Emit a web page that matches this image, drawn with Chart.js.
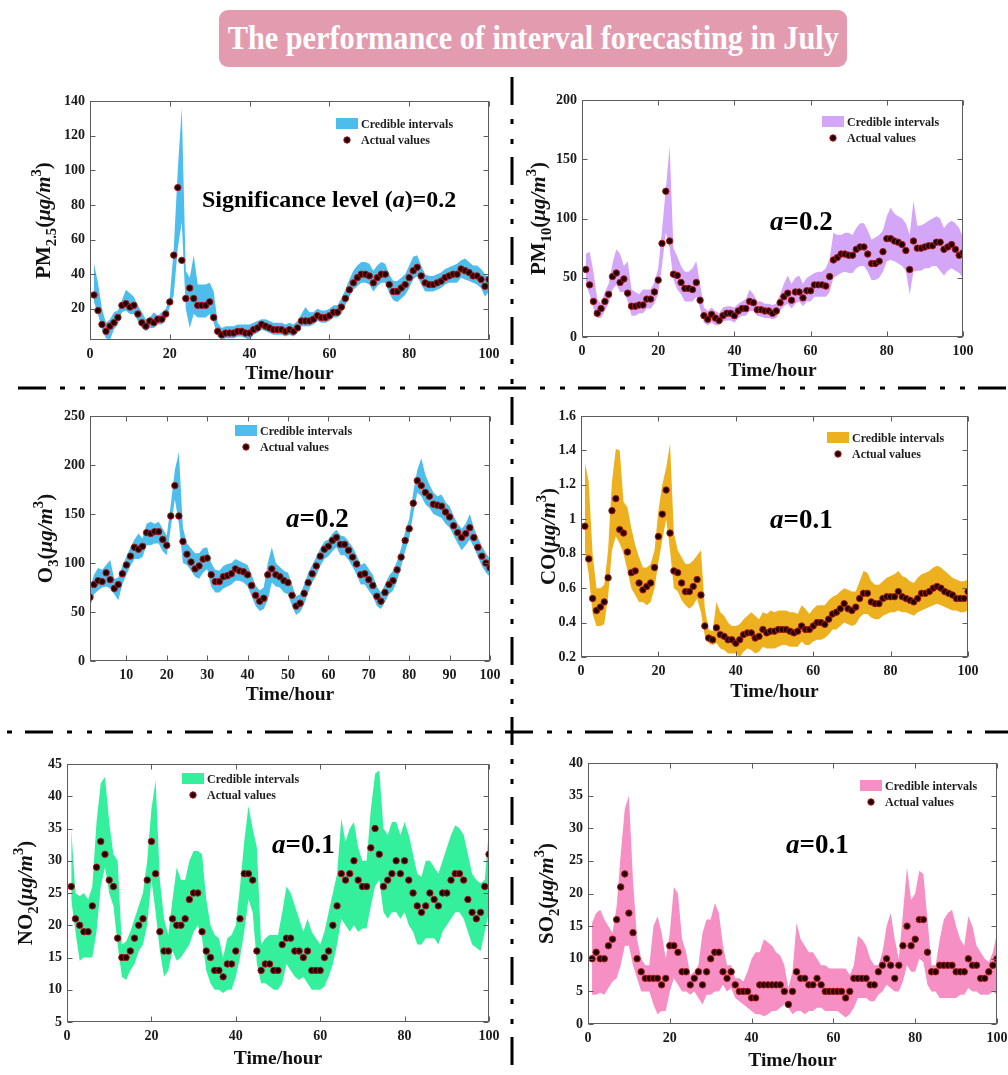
<!DOCTYPE html>
<html><head><meta charset="utf-8">
<script src="https://cdn.jsdelivr.net/npm/chart.js@4.4.1/dist/chart.umd.min.js"></script>
<style>
html,body{margin:0;padding:0;background:#fff;}
body{width:1008px;height:1075px;position:relative;overflow:hidden;}
#title{position:absolute;left:219px;top:10px;width:628px;height:57px;background:#e39caf;border-radius:9px;display:flex;align-items:center;justify-content:center;overflow:hidden;}
#ttext{font-family:'Liberation Serif','Times New Roman',serif;font-weight:bold;font-size:33px;color:#fff;white-space:nowrap;display:inline-block;transform-origin:center;}
canvas{position:absolute;}
svg{position:absolute;left:0;top:0;}
</style></head><body>
<div id="title"><span id="ttext">The performance of interval forecasting in July</span></div>
<svg width="1008" height="1075">
<line x1="18" y1="388" x2="1008" y2="388" stroke="#000" stroke-width="3" stroke-dasharray="28 14 5 15 5 13"/>
<line x1="-55" y1="732" x2="1008" y2="732" stroke="#000" stroke-width="3" stroke-dasharray="28 14 5 15 5 13"/>
<line x1="512" y1="77" x2="512" y2="1075" stroke="#000" stroke-width="3" stroke-dasharray="28 14 5 15 5 13"/>
</svg>
<script>
const FONT = "'Liberation Serif','Times New Roman',serif";

const hours = [1,2,3,4,5,6,7,8,9,10,11,12,13,14,15,16,17,18,19,20,21,22,23,24,25,26,27,28,29,30,31,32,33,34,35,36,37,38,39,40,41,42,43,44,45,46,47,48,49,50,51,52,53,54,55,56,57,58,59,60,61,62,63,64,65,66,67,68,69,70,71,72,73,74,75,76,77,78,79,80,81,82,83,84,85,86,87,88,89,90,91,92,93,94,95,96,97,98,99,100];

// X tick values / labels
const xTickVals = [0,20,40,60,80,100];
const xTickLabels = ['0','20','40','60','80','100'];
const o3XTickVals = [10,20,30,40,50,60,70,80,90,100];
const o3XTickLabels = ['10','20','30','40','50','60','70','80','90','100'];

// Y tick values / labels
const pm25YTickVals = [20,40,60,80,100,120,140];
const pm25YTickLabels = ['20','40','60','80','100','120','140'];
const pm10YTickVals = [0,50,100,150,200];
const pm10YTickLabels = ['0','50','100','150','200'];
const o3YTickVals = [0,50,100,150,200,250];
const o3YTickLabels = ['0','50','100','150','200','250'];
const coYTickVals = [0.2,0.4,0.6,0.8,1.0,1.2,1.4,1.6];
const coYTickLabels = ['0.2','0.4','0.6','0.8','1','1.2','1.4','1.6'];
const no2YTickVals = [5,10,15,20,25,30,35,40,45];
const no2YTickLabels = ['5','10','15','20','25','30','35','40','45'];
const so2YTickVals = [0,5,10,15,20,25,30,35,40];
const so2YTickLabels = ['0','5','10','15','20','25','30','35','40'];

// PM2.5
const pm25Actual = [28,19,11,7,10,12,15,22,23,21, 22,17,12,10,13,12,14,14,17,24, 51,90,48,26,32,26,22,22,22,24, 15,7,5,6,6,6,7,7,6,6, 8,9,11,10,9,8,8,8,7,8, 7,9,13,13,13,14,16,15,15,16, 18,18,21,26,31,35,38,40,40,39, 35,38,40,40,34,30,30,32,34,38, 42,44,39,35,34,34,35,36,38,39, 40,40,43,42,41,39,39,37,33,37];
const pm25Upper = [46,35,20,12,14,18,19,25,31,29, 27,22,18,14,15,18,16,18,20,27, 55,100,136,42,38,51,34,34,34,35, 30,12,9,10,10,10,11,11,11,11, 12,13,14,14,13,12,12,12,11,12, 11,13,17,21,18,18,20,19,19,20, 22,22,26,31,37,42,45,47,47,46, 42,45,47,46,40,36,36,38,40,45, 50,51,45,40,39,39,40,41,43,44, 45,46,48,49,47,45,45,43,40,38];
const pm25Lower = [24,17,8,3,2,8,11,18,19,17, 17,13,9,7,9,9,11,11,14,21, 28,55,70,20,9,17,15,15,15,17, 12,4,2,3,3,3,4,4,3,2, 5,6,8,7,6,5,5,5,4,5, 4,6,10,10,10,11,13,12,12,13, 15,15,17,22,27,31,33,35,35,34, 30,33,35,35,29,25,24,26,28,32, 37,39,34,30,30,30,31,32,34,35, 35,35,38,37,36,35,34,32,27,30];

// PM10
const pm10Actual = [57,44,30,20,24,30,36,51,54,46, 49,37,26,26,27,27,32,32,38,48, 79,123,81,53,52,46,41,41,40,46, 31,18,15,19,16,14,18,20,20,18, 22,24,24,30,29,23,23,22,22,20, 22,29,34,37,31,38,38,33,39,39, 44,44,44,43,51,65,67,70,70,69, 69,74,76,76,70,62,62,64,72,83, 83,81,80,78,73,57,81,75,75,76, 77,77,80,80,74,76,78,74,69,71];
const pm10Upper = [70,72,55,32,28,38,45,62,74,70, 60,64,40,38,36,40,40,40,46,58, 90,125,161,75,68,60,55,55,58,64, 45,25,22,25,22,20,25,26,26,25, 28,30,32,40,36,30,30,28,28,27, 28,36,45,52,45,50,52,45,50,52, 54,55,55,58,66,88,86,86,88,88, 86,92,96,96,90,82,84,86,90,102, 109,104,102,100,96,86,115,94,94,96, 98,100,102,100,92,96,98,96,92,84];
const pm10Lower = [44,36,24,16,16,22,28,40,44,38, 38,30,18,18,20,20,24,24,28,36, 60,88,75,48,40,36,30,30,30,34, 24,12,10,12,10,10,13,14,14,12, 16,18,18,22,22,18,17,16,16,15, 16,22,26,28,24,28,30,26,30,30, 34,34,34,34,38,50,52,54,55,54, 54,58,60,60,55,48,48,50,55,64, 65,64,62,60,56,36,55,56,56,58, 58,60,60,56,52,56,58,56,54,50];

// O3
const o3Actual = [65,78,82,81,90,83,74,78,89,98, 107,116,114,117,131,130,132,132,124,118, 148,179,148,122,109,101,94,97,104,105, 88,81,81,86,87,89,94,92,91,88, 77,67,61,64,88,94,88,86,82,80, 67,56,59,69,80,89,97,107,114,117, 123,126,119,119,113,106,99,88,89,83, 77,66,61,70,78,82,93,106,123,135, 161,184,179,172,168,160,159,158,152,147, 138,131,126,130,136,126,116,107,100,95];
const o3Upper = [75,88,95,93,98,103,84,85,97,106, 116,124,130,125,140,142,140,142,135,128, 160,195,213,136,120,115,110,110,115,116, 100,93,92,97,99,100,104,102,100,98, 88,77,72,75,100,116,100,96,92,90, 78,66,68,78,90,98,106,115,122,124, 130,134,128,127,122,116,108,98,100,94, 88,76,70,78,87,92,102,115,132,145, 172,195,207,190,180,172,168,170,162,158, 148,140,135,140,150,136,126,117,110,104];
const o3Lower = [55,68,72,75,76,74,68,62,78,88, 97,104,104,106,118,118,120,120,112,108, 136,165,140,100,98,92,86,84,90,94, 76,70,70,74,76,78,82,82,80,76, 66,56,51,53,62,80,76,75,70,68, 56,47,50,58,70,80,87,97,104,107, 112,116,108,108,103,96,88,78,78,72, 66,56,53,60,68,72,82,96,112,125, 150,172,168,160,156,150,148,146,140,136, 128,120,113,118,124,116,106,97,90,86];

// CO
const coActual = [0.96,0.77,0.54,0.47,0.49,0.52,0.66,1.05,1.12,0.94, 0.92,0.81,0.69,0.70,0.63,0.59,0.61,0.63,0.72,0.90, 1.03,1.17,0.92,0.70,0.69,0.63,0.58,0.58,0.61,0.65, 0.56,0.38,0.31,0.30,0.37,0.33,0.32,0.30,0.30,0.28, 0.30,0.33,0.34,0.34,0.31,0.32,0.36,0.34,0.35,0.35, 0.36,0.36,0.36,0.35,0.34,0.35,0.38,0.36,0.36,0.38, 0.40,0.40,0.39,0.42,0.45,0.46,0.48,0.51,0.48,0.47, 0.49,0.54,0.57,0.57,0.52,0.51,0.51,0.54,0.55,0.55, 0.55,0.58,0.55,0.54,0.53,0.52,0.54,0.57,0.57,0.58, 0.60,0.61,0.60,0.58,0.57,0.56,0.54,0.54,0.54,0.58];
const coUpper = [1.33,1.22,0.80,0.60,0.60,0.62,0.82,1.22,1.41,1.40, 1.10,1.07,0.95,0.85,0.78,0.72,0.72,0.74,0.82,1.05, 1.20,1.30,1.44,0.92,0.82,0.78,0.74,0.74,0.76,0.79, 0.82,0.48,0.36,0.35,0.52,0.46,0.44,0.40,0.38,0.38, 0.39,0.42,0.44,0.46,0.44,0.42,0.46,0.45,0.47,0.46, 0.47,0.47,0.47,0.46,0.46,0.45,0.50,0.48,0.45,0.48, 0.50,0.50,0.50,0.53,0.55,0.56,0.58,0.60,0.59,0.58, 0.58,0.64,0.70,0.69,0.64,0.62,0.62,0.64,0.66,0.67, 0.68,0.70,0.67,0.66,0.64,0.63,0.66,0.68,0.69,0.70, 0.72,0.73,0.72,0.70,0.68,0.66,0.65,0.64,0.64,0.65];
const coLower = [0.82,0.68,0.45,0.38,0.38,0.39,0.55,0.82,0.90,0.86, 0.80,0.70,0.60,0.56,0.52,0.52,0.50,0.52,0.60,0.75, 0.88,1.00,0.82,0.60,0.58,0.53,0.50,0.48,0.50,0.54, 0.46,0.32,0.28,0.27,0.28,0.25,0.24,0.22,0.22,0.22, 0.20,0.23,0.25,0.24,0.22,0.23,0.26,0.25,0.25,0.25, 0.26,0.27,0.27,0.26,0.26,0.26,0.29,0.27,0.27,0.29, 0.30,0.30,0.31,0.33,0.36,0.36,0.38,0.40,0.39,0.38, 0.39,0.43,0.45,0.45,0.43,0.42,0.42,0.44,0.45,0.46, 0.46,0.47,0.46,0.46,0.45,0.44,0.46,0.47,0.48,0.49, 0.50,0.51,0.50,0.49,0.48,0.47,0.47,0.46,0.46,0.47];

// NO2
const no2Actual = [26,21,20,19,19,23,29,33,31,27, 26,18,15,15,16,18,20,21,27,33, 28,19,16,16,21,20,20,21,24,25, 25,19,16,15,13,13,12,14,14,16, 21,28,28,27,16,13,14,14,13,13, 17,18,18,16,16,15,16,13,13,13, 15,16,20,23,28,27,28,30,27,26, 26,32,35,31,26,27,28,30,28,30, 27,25,23,22,23,25,24,23,25,25, 27,28,28,27,24,22,21,22,26,31];
const no2Upper = [35,25,24.5,25,24,26,36,42,43,36, 31,30,17,17.5,19,21,23,25,30,38, 42.5,27,21,18.5,24,29,27,27,30,31.5, 31.5,31,24,20,18.5,18,15,18,18.5,20, 26,33,38.5,35,32,17,18,18.5,18.5,18.5, 22,26,25,23,21,19,21,19,18,17, 19,22,25,28,36.5,33,35,36,32,30, 30,38,43.5,44,35,34,36,36,34,36, 34,31,28,27.5,30,30,29,28,30,32, 34,35.5,35,34,31,28,27,26.5,27,35];
const no2Lower = [24,19,14.5,15,15,15,19,26,29,25, 23,17,12,11.5,13,14,16,17,20,27, 22,16,12,13,16,14.5,15,16,17,19, 20,18,13,11,10,10,9.5,10,10,12, 15,19,24,22,14,11,11,10.5,10,10, 11,14,13,12,11.5,12,11,10,10,10, 10.5,12,14,17,21,20,19,20,19,19.5, 19.5,23,26,27,22,21,22,22,21,22, 20,19,17,17,18,18,18,17,19,20, 21,22,22,21,19,17,16.5,16,19,22];

// SO2
const so2Actual = [10,11,10,10,12,13,16,21,23,17, 14,10,8,7,7,7,7,6,7,12, 12,11,8,8,6,7,8,6,8,10, 11,11,8,7,8,6,5,5,5,4, 4,6,6,6,6,6,6,5,3,5, 8,7,7,6,6,7,6,5,5,5, 5,5,4,5,7,7,7,7,6,6, 8,9,10,9,7,9,12,15,12,13, 16,16,11,8,8,9,9,9,9,8, 8,8,10,9,9,7,7,8,9,10];
const so2Upper = [15.5,17,17.5,16,15,14,18,26,33,35, 22,13,10,9,9,15,16.5,14,10,14, 21,20,13,11,7.5,8,9,14,16,16, 18.5,17,12,9,9,7,7,6.5,8,10, 11,11,13,12.5,12,11,10.5,9,5.5,8, 15.5,13,12,11,11,10,9,9,8.5,8.5, 8.5,8.5,8.5,7.5,9,13.5,13,12,10,9, 9,11,15,17,13,10,17,24,19,20, 23.5,23,16,9,9,13,16,17,17.5,15, 13,12,16.5,15,12,11,10,9.5,11,14];
const so2Lower = [4.5,4.5,4.8,4.5,5.5,6.5,7,9,12,12, 9,7,5,5,5,3,1.5,2,2,5, 7,6,5,5,4.5,5,4,3,4.5,4.5, 5,5,6,5,5.5,4,3.5,3,2.5,2, 1.5,1.5,1.2,1.5,2,2,2.5,3,2.5,1.5, 2,2,1.5,2,2,2.5,2.5,2,2,2, 2,1.5,1,1.5,2.5,4,4,4,3.5,3.5, 4.5,5,6,5.5,5,5,6.5,9,8,8, 10,9.5,6,5,5,4,4,4,4,4, 4.5,4.5,5.5,5,5,4.5,4.5,4.5,5,4.5];

const legendLabels = ['Credible intervals','Actual values'];
const xAxisTitle = 'Time/hour';

const panels = [
  {L:90,T:101,R:489,B:340, xMin:0,xMax:100, xTicks:xTickVals, xLabels:xTickLabels,
   yMin:2,yMax:140, yTicks:pm25YTickVals, yLabels:pm25YTickLabels, color:'#4dbdec',
   actual:pm25Actual, upper:pm25Upper, lower:pm25Lower,
   yTitle:[{t:'PM'},{t:'2.5',s:0.7,dy:0.28},{t:'('},{t:'\u03bcg/m',it:true},{t:'3',s:0.7,dy:-0.45},{t:')'}], yTitleX:50,
   leg:[246,17], ann:{runs:[{t:'Significance level ('},{t:'a',it:true},{t:')=0.2'}], x:202, y:207, size:24}, xtDy:39},
  {L:582,T:100,R:963,B:337, xMin:0,xMax:100, xTicks:xTickVals, xLabels:xTickLabels,
   yMin:0,yMax:200, yTicks:pm10YTickVals, yLabels:pm10YTickLabels, color:'#d4a6f8',
   actual:pm10Actual, upper:pm10Upper, lower:pm10Lower,
   yTitle:[{t:'PM'},{t:'10',s:0.7,dy:0.28},{t:'('},{t:'\u03bcg/m',it:true},{t:'3',s:0.7,dy:-0.45},{t:')'}], yTitleX:545,
   leg:[240,16], ann:{runs:[{t:'a',it:true},{t:'=0.2'}], x:770, y:230, size:27}, xtDy:39},
  {L:90,T:416,R:490,B:661, xMin:1,xMax:100, xTicks:o3XTickVals, xLabels:o3XTickLabels,
   yMin:0,yMax:250, yTicks:o3YTickVals, yLabels:o3YTickLabels, color:'#4dbdec',
   actual:o3Actual, upper:o3Upper, lower:o3Lower,
   yTitle:[{t:'O'},{t:'3',s:0.7,dy:0.28},{t:'('},{t:'\u03bcg/m',it:true},{t:'3',s:0.7,dy:-0.45},{t:')'}], yTitleX:52,
   leg:[145,9], ann:{runs:[{t:'a',it:true},{t:'=0.2'}], x:286, y:527, size:27}, xtDy:39},
  {L:581,T:416,R:968,B:657, xMin:0,xMax:100, xTicks:xTickVals, xLabels:xTickLabels,
   yMin:0.2,yMax:1.6, yTicks:coYTickVals, yLabels:coYTickLabels, color:'#edb120',
   actual:coActual, upper:coUpper, lower:coLower,
   yTitle:[{t:'CO('},{t:'\u03bcg/m',it:true},{t:'3',s:0.7,dy:-0.45},{t:')'}], yTitleX:555,
   leg:[246,16], ann:{runs:[{t:'a',it:true},{t:'=0.1'}], x:770, y:528, size:27}, xtDy:40},
  {L:67,T:764,R:489,B:1022, xMin:0,xMax:100, xTicks:xTickVals, xLabels:xTickLabels,
   yMin:5,yMax:45, yTicks:no2YTickVals, yLabels:no2YTickLabels, color:'#34f09c',
   actual:no2Actual, upper:no2Upper, lower:no2Lower,
   yTitle:[{t:'NO'},{t:'2',s:0.7,dy:0.28},{t:'('},{t:'\u03bcg/m',it:true},{t:'3',s:0.7,dy:-0.45},{t:')'}], yTitleX:32,
   leg:[115,9], ann:{runs:[{t:'a',it:true},{t:'=0.1'}], x:272, y:853, size:27}, xtDy:42},
  {L:588,T:763,R:997,B:1024, xMin:0,xMax:100, xTicks:xTickVals, xLabels:xTickLabels,
   yMin:0,yMax:40, yTicks:so2YTickVals, yLabels:so2YTickLabels, color:'#f68fc3',
   actual:so2Actual, upper:so2Upper, lower:so2Lower,
   yTitle:[{t:'SO'},{t:'2',s:0.7,dy:0.28},{t:'('},{t:'\u03bcg/m',it:true},{t:'3',s:0.7,dy:-0.45},{t:')'}], yTitleX:553,
   leg:[272,17], ann:{runs:[{t:'a',it:true},{t:'=0.1'}], x:786, y:853, size:27}, xtDy:42}
];

function setFont(ctx, size, it){ ctx.font = (it?'italic ':'') + 'bold ' + size + 'px ' + FONT; }
function runsWidth(ctx, runs, size){
  let w = 0;
  for (const r of runs){ setFont(ctx, size*(r.s||1), r.it); w += ctx.measureText(r.t).width; }
  return w;
}
function drawRuns(ctx, runs, x, y, size){
  let cx = x;
  for (const r of runs){
    setFont(ctx, size*(r.s||1), r.it);
    ctx.fillText(r.t, cx, y + (r.dy||0)*size);
    cx += ctx.measureText(r.t).width;
  }
}

const decor = {
  id:'panelDecor',
  afterDraw(chart, args, opts){
    const p = panels[opts.idx];
    const ctx = chart.ctx, a = chart.chartArea, xs = chart.scales.x, ys = chart.scales.y;
    const ox = a.left - p.L, oy = a.top - p.T;
    ctx.save();
    // box
    ctx.strokeStyle = '#5c5c5c'; ctx.lineWidth = 1;
    const l = Math.round(a.left)+0.5, t = Math.round(a.top)+0.5, r = Math.round(a.right)-0.5, b = Math.round(a.bottom)-0.5;
    ctx.strokeRect(l, t, r-l, b-t);
    const tl = 5;
    ctx.beginPath();
    for (const v of p.xTicks){
      const px = Math.round(xs.getPixelForValue(v))+0.5;
      ctx.moveTo(px, b); ctx.lineTo(px, b-tl);
      ctx.moveTo(px, t); ctx.lineTo(px, t+tl);
    }
    for (const v of p.yTicks){
      const py = Math.round(ys.getPixelForValue(v))+0.5;
      ctx.moveTo(l, py); ctx.lineTo(l+tl, py);
      ctx.moveTo(r, py); ctx.lineTo(r-tl, py);
    }
    ctx.stroke();
    // legend
    const lx = a.left + p.leg[0], ly = a.top + p.leg[1];
    ctx.fillStyle = p.color;
    ctx.fillRect(lx, ly, 22, 11);
    ctx.fillStyle = '#1e1e1e';
    ctx.textAlign = 'left'; ctx.textBaseline = 'alphabetic';
    setFont(ctx, 12, false);
    ctx.fillText(legendLabels[0], lx+25, ly+10);
    ctx.fillText(legendLabels[1], lx+25, ly+26);
    ctx.beginPath(); ctx.arc(lx+11, ly+22, 3.2, 0, Math.PI*2);
    ctx.fillStyle = '#200000'; ctx.fill();
    ctx.strokeStyle = '#b01818'; ctx.lineWidth = 1; ctx.stroke();
    // annotation
    ctx.fillStyle = '#000';
    drawRuns(ctx, p.ann.runs, p.ann.x + ox, p.ann.y + oy, p.ann.size);
    // x title
    setFont(ctx, 19.5, false);
    ctx.textAlign = 'center';
    ctx.fillStyle = '#111';
    ctx.fillText(xAxisTitle, (a.left+a.right)/2, a.bottom + p.xtDy);
    // y title
    ctx.textAlign = 'left';
    const size = 21;
    const w = runsWidth(ctx, p.yTitle, size);
    ctx.translate(p.yTitleX + ox, (a.top+a.bottom)/2);
    ctx.rotate(-Math.PI/2);
    drawRuns(ctx, p.yTitle, -w/2, 0, size);
    ctx.restore();
  }
};

panels.forEach((p, k) => {
  const ml = Math.min(80, p.L);
  const cl = p.L - ml;
  const padT = 12, padR = 16, xh = 52;
  const cw = (p.R - p.L) + ml + padR;
  const ch = (p.B - p.T) + padT + xh;
  const cv = document.createElement('canvas');
  cv.width = cw; cv.height = ch;
  cv.style.left = cl + 'px'; cv.style.top = (p.T - padT) + 'px';
  cv.style.width = cw + 'px'; cv.style.height = ch + 'px';
  document.body.appendChild(cv);
  const pts = arr => hours.map((h, i) => ({x: h, y: arr[i]}));
  const tickFont = {family: FONT, size: 14, weight: 'bold'};
  new Chart(cv, {
    type: 'line',
    data: {datasets: [
      {label: legendLabels[1], data: pts(p.actual), showLine: false, pointRadius: 3.2,
       pointBackgroundColor: '#200000', pointBorderColor: '#b01818', pointBorderWidth: 1, order: 0},
      {label: 'upper', data: pts(p.upper), fill: '+1', backgroundColor: p.color, borderColor: 'rgba(0,0,0,0)',
       borderWidth: 0, pointRadius: 0, tension: 0, order: 1},
      {label: 'lower', data: pts(p.lower), fill: false, borderColor: 'rgba(0,0,0,0)',
       borderWidth: 0, pointRadius: 0, tension: 0, order: 2}
    ]},
    options: {
      responsive: false, animation: false, devicePixelRatio: 1,
      layout: {padding: {top: padT, right: padR, left: 0, bottom: 0}},
      plugins: {legend: {display: false}, tooltip: {enabled: false}, panelDecor: {idx: k}},
      scales: {
        x: {type: 'linear', min: p.xMin, max: p.xMax,
          afterBuildTicks: s => { s.ticks = p.xTicks.map(v => ({value: v})); },
          afterFit: s => { s.height = xh; s.paddingLeft = 0; s.paddingRight = 0; },
          ticks: {autoSkip: false, maxRotation: 0, padding: 6, color: '#1a1a1a', font: tickFont,
            callback: (v, i) => p.xLabels[i]},
          grid: {display: false, drawTicks: false}, border: {display: false}},
        y: {type: 'linear', min: p.yMin, max: p.yMax,
          afterBuildTicks: s => { s.ticks = p.yTicks.map(v => ({value: v})); },
          afterFit: s => { s.width = ml; s.paddingTop = 0; s.paddingBottom = 0; },
          ticks: {autoSkip: false, padding: 5, color: '#1a1a1a', font: tickFont,
            callback: (v, i) => p.yLabels[i]},
          grid: {display: false, drawTicks: false}, border: {display: false}}
      }
    },
    plugins: [decor]
  });
});

// fit title text width
const tt = document.getElementById('ttext');
const tw = tt.getBoundingClientRect().width;
tt.style.transform = 'scaleX(' + (611 / tw) + ')';
</script>
</body></html>
